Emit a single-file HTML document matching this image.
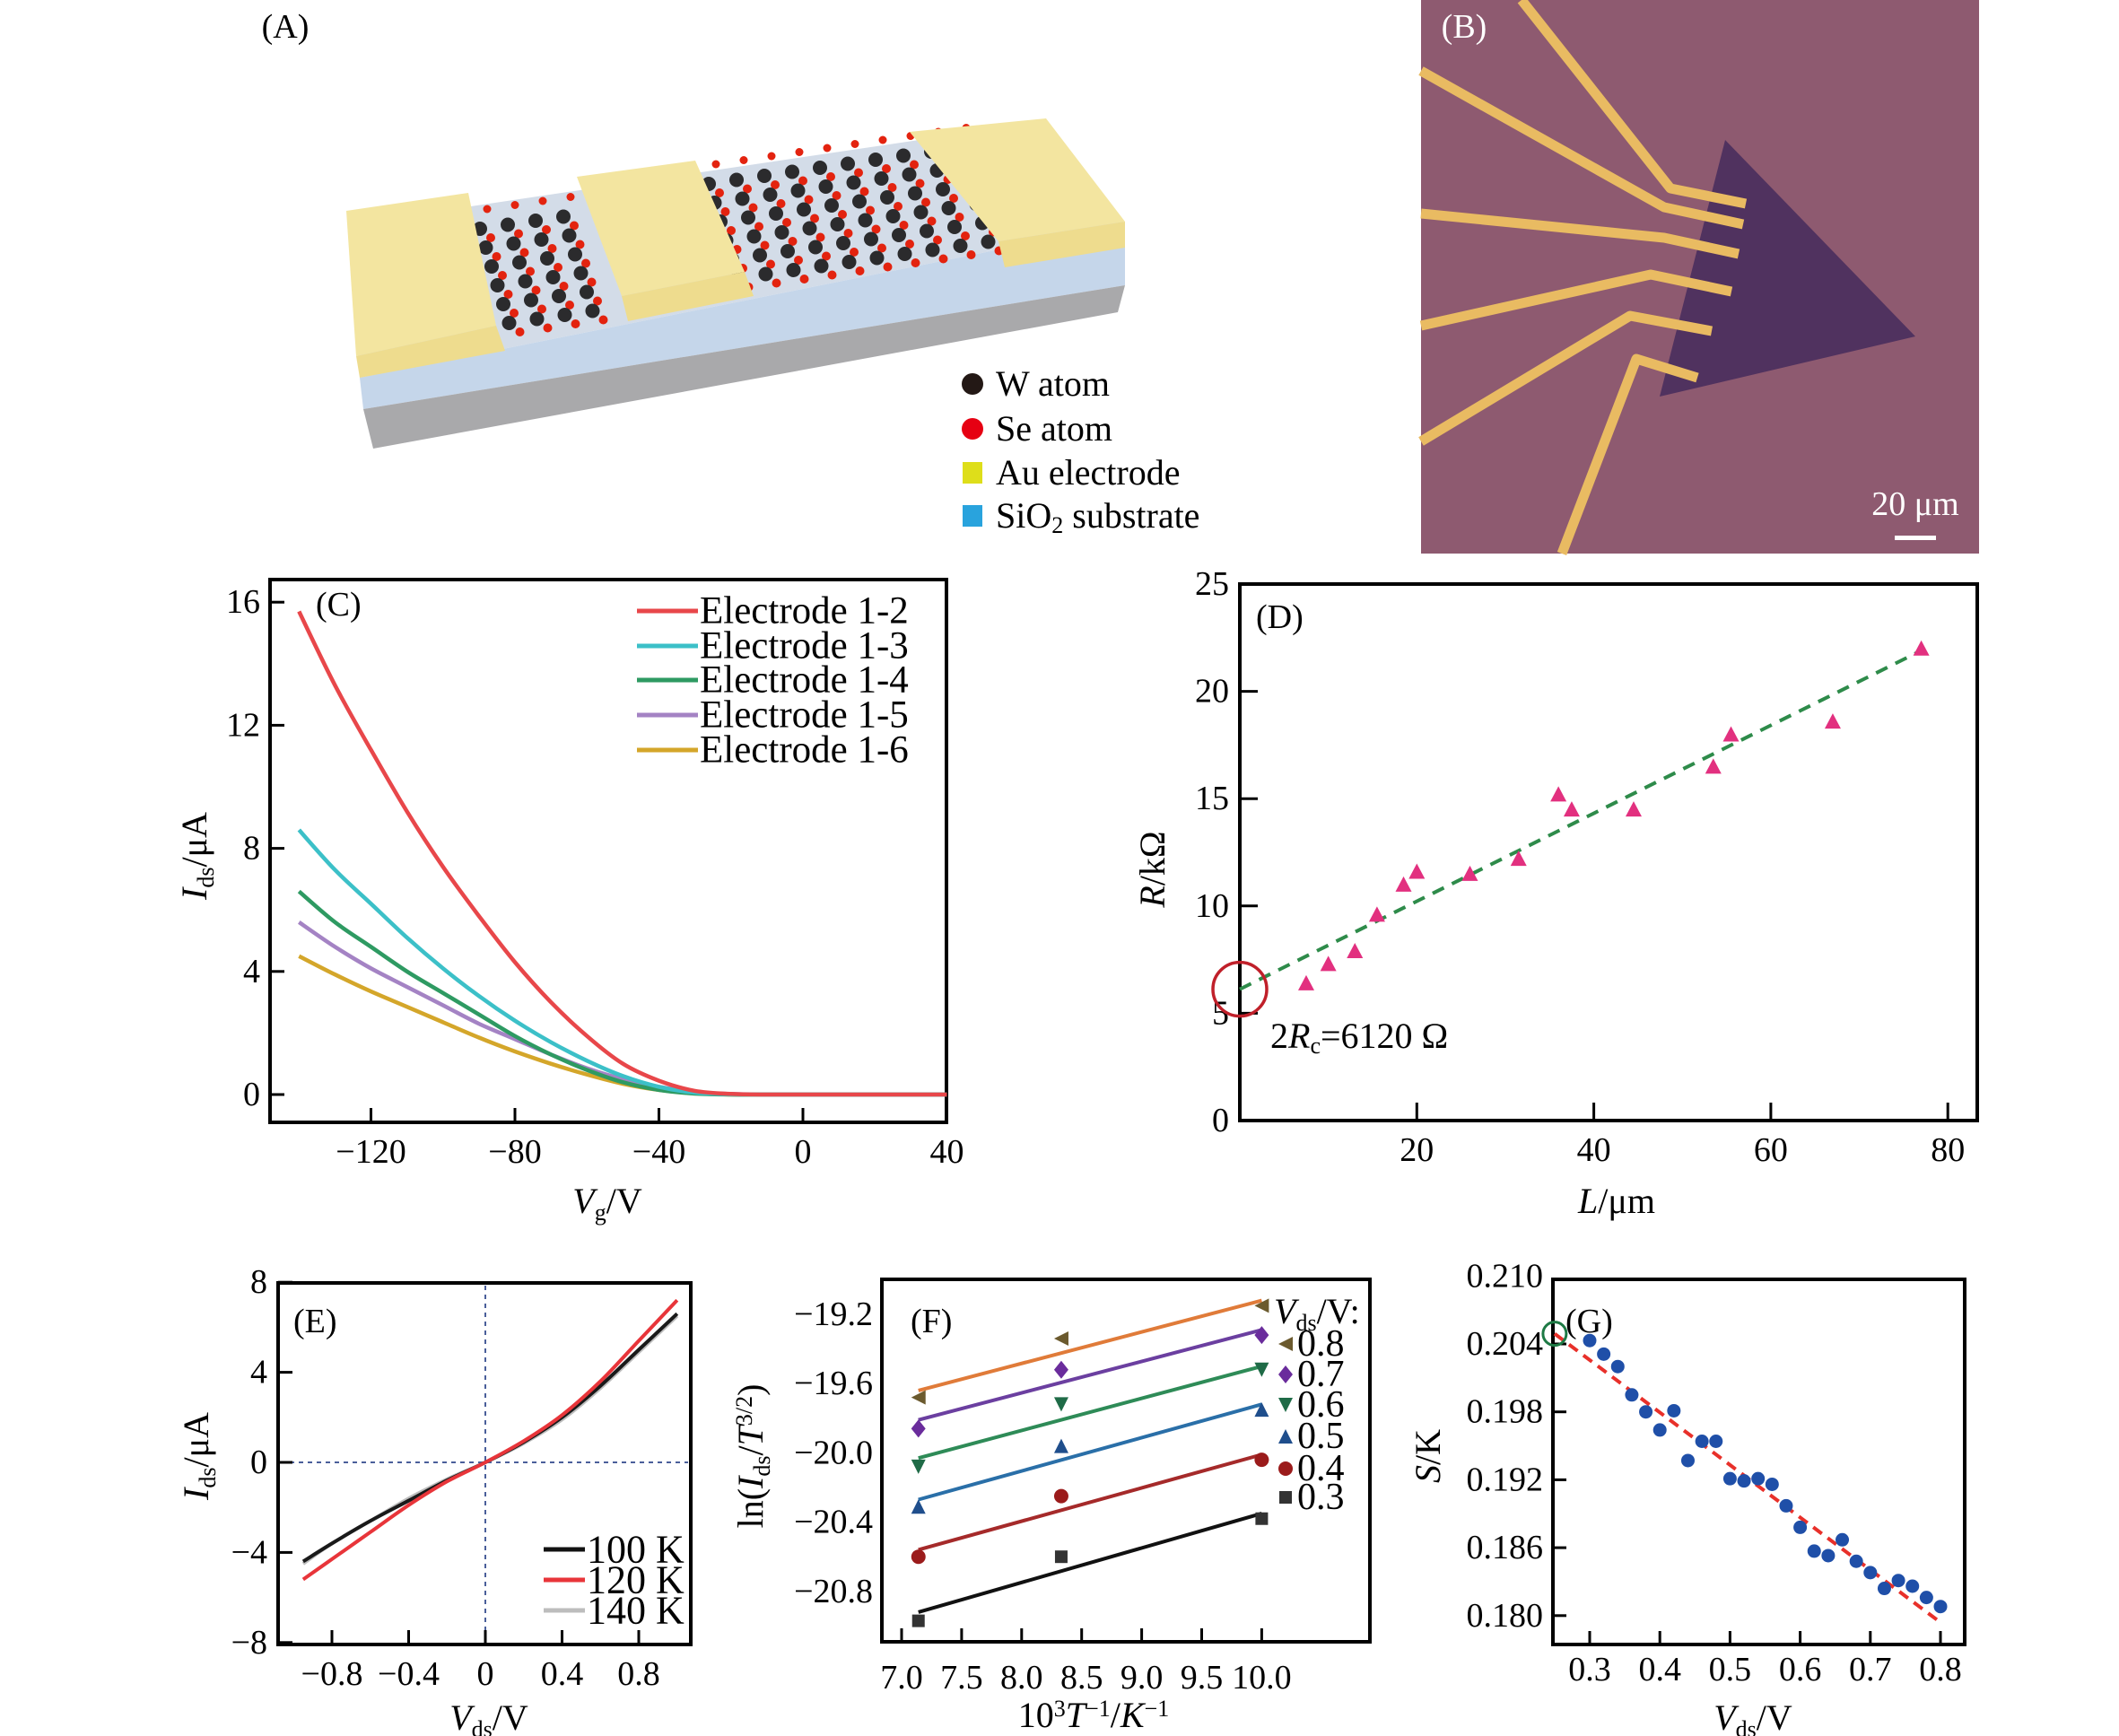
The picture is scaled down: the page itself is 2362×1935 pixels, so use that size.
<!DOCTYPE html>
<html><head><meta charset="utf-8"><style>
html,body{margin:0;padding:0;background:#fff}
svg{display:block;font-family:"Liberation Serif",serif}
</style></head><body>
<svg id="fig" xmlns="http://www.w3.org/2000/svg" width="2362" height="1935" viewBox="0 0 2362 1935">
<rect x="0" y="0" width="2362" height="1935" fill="#fff"/>
<!-- Panel A -->
<g id="panelA">
<text x="318" y="42" font-size="38" text-anchor="middle">(A)</text>
<polygon points="390,250 1166,135 1254,250 401,421" fill="#d3dce8"/>
<polygon points="401,421 1254,250 1254,318 405,456" fill="#c5d6ea"/>
<polygon points="405,456 1254,318 1246,348 416,500" fill="#a9a9ab"/>
<g id="atoms"></g>
<polygon points="386,235 522,215 553,363 397,397" fill="#f3e5a0"/>
<polygon points="397,397 553,363 563,391 401,421" fill="#eedc8e"/>
<polygon points="643,197 775,179 830,303 693,330" fill="#f3e5a0"/>
<polygon points="693,330 830,303 840,330 700,358" fill="#eedc8e"/>
<polygon points="1014,147 1166,132 1254,247 1113,269" fill="#f3e5a0"/>
<polygon points="1113,269 1254,247 1254,276 1120,298" fill="#eedc8e"/>
<circle cx="1084" cy="428" r="12" fill="#231815"/>
<circle cx="1084" cy="478" r="12" fill="#e60012"/>
<rect x="1073" y="515" width="22" height="24" fill="#dede1a"/>
<rect x="1073" y="563" width="22" height="24" fill="#29a3dd"/>
<text x="1110" y="441" font-size="40">W atom</text>
<text x="1110" y="491" font-size="40">Se atom</text>
<text x="1110" y="540" font-size="40">Au electrode</text>
<text x="1110" y="588" font-size="40">SiO<tspan font-size="26" dy="6">2</tspan><tspan dy="-6"> substrate</tspan></text>
</g>
<!-- Panel B -->
<g id="panelB">
<rect x="1584" y="0" width="622" height="617" fill="#8e5a70"/>
<polygon points="1923,156 2135,375 1850,442" fill="#50325f"/>
<g fill="none" stroke="#e9bb62" stroke-width="11" stroke-linejoin="round">
<polyline points="1696,0 1862,210 1946,227"/>
<polyline points="1584,79 1855,231 1943,250"/>
<polyline points="1584,238 1855,265 1938,283"/>
<polyline points="1584,363 1840,306 1930,325"/>
<polyline points="1584,492 1817,352 1908,369"/>
<polyline points="1741,617 1824,400 1892,421"/>
</g>
<text x="1632" y="42" font-size="38" fill="#fff" text-anchor="middle">(B)</text>
<text x="2135" y="574" font-size="38" fill="#fff" text-anchor="middle">20 μm</text>
<rect x="2112" y="597" width="46" height="5" fill="#fff"/>
</g>
<!-- axis titles and static labels -->
<g font-size="40">
<text x="352" y="686" font-size="38">(C)</text>
<text transform="translate(230,954) rotate(-90)" text-anchor="middle"><tspan font-style="italic">I</tspan><tspan font-size="26" dy="8">ds</tspan><tspan dy="-8">/μA</tspan></text>
<text x="677" y="1352" text-anchor="middle"><tspan font-style="italic">V</tspan><tspan font-size="26" dy="8">g</tspan><tspan dy="-8">/V</tspan></text>
<text x="1400" y="700" font-size="38">(D)</text>
<text transform="translate(1298,969) rotate(-90)" text-anchor="middle"><tspan font-style="italic">R</tspan>/kΩ</text>
<text x="1802" y="1352" text-anchor="middle"><tspan font-style="italic">L</tspan>/μm</text>
<text x="1416" y="1168" font-size="40">2<tspan font-style="italic">R</tspan><tspan font-size="26" dy="6">c</tspan><tspan dy="-6">=6120 Ω</tspan></text>
<text x="327" y="1485" font-size="38">(E)</text>
<text transform="translate(232,1623) rotate(-90)" text-anchor="middle"><tspan font-style="italic">I</tspan><tspan font-size="26" dy="8">ds</tspan><tspan dy="-8">/μA</tspan></text>
<text x="545" y="1928" text-anchor="middle"><tspan font-style="italic">V</tspan><tspan font-size="26" dy="8">ds</tspan><tspan dy="-8">/V</tspan></text>
<text x="1015" y="1485" font-size="38">(F)</text>
<text transform="translate(850,1623) rotate(-90)" text-anchor="middle">ln(<tspan font-style="italic">I</tspan><tspan font-size="26" dy="8">ds</tspan><tspan dy="-8">/</tspan><tspan font-style="italic">T</tspan><tspan font-size="26" dy="-12">3/2</tspan><tspan dy="12">)</tspan></text>
<text x="1219" y="1925" text-anchor="middle">10<tspan font-size="26" dy="-12">3</tspan><tspan dy="12" font-style="italic">T</tspan><tspan font-size="26" dy="-12">−1</tspan><tspan dy="12">/</tspan><tspan font-style="italic">K</tspan><tspan font-size="26" dy="-12">−1</tspan></text>
<text x="1420" y="1475" font-size="40"><tspan font-style="italic">V</tspan><tspan font-size="26" dy="8">ds</tspan><tspan dy="-8">/V:</tspan></text>
<text x="1745" y="1485" font-size="38">(G)</text>
<text transform="translate(1605,1623) rotate(-90)" text-anchor="middle"><tspan font-style="italic">S</tspan>/K</text>
<text x="1954" y="1928" text-anchor="middle"><tspan font-style="italic">V</tspan><tspan font-size="26" dy="8">ds</tspan><tspan dy="-8">/V</tspan></text>
</g>
<g id="charts"></g>
</svg>
<script>
// ===== Panel C data =====
const cVg = [-140,-130,-120,-110,-100,-90,-80,-70,-60,-50,-40,-30,-20,-10,0,10,20,30,40];
const cSeriesNames = ["Electrode 1-2","Electrode 1-3","Electrode 1-4","Electrode 1-5","Electrode 1-6"];
const cE12 = [15.7,13.3,11.2,9.2,7.4,5.8,4.3,3.0,1.9,1.0,0.45,0.12,0.02,0,0,0,0,0,0];
const cE13 = [8.6,7.3,6.2,5.1,4.1,3.2,2.4,1.7,1.1,0.6,0.25,0.06,0.01,0,0,0,0,0,0];
const cE14 = [6.6,5.6,4.8,4.0,3.3,2.6,1.9,1.3,0.8,0.4,0.15,0.03,0,0,0,0,0,0,0];
const cE15 = [5.6,4.8,4.1,3.5,2.9,2.3,1.8,1.3,0.85,0.5,0.25,0.08,0.02,0,0,0,0,0,0];
const cE16 = [4.5,3.9,3.35,2.85,2.35,1.85,1.4,1.0,0.65,0.35,0.15,0.04,0,0,0,0,0,0,0];
const cXTicks = [-120,-80,-40,0,40];
const cYTicks = [0,4,8,12,16];
// ===== Panel D data =====
const dL = [7.5,10,13,15.5,18.5,20,26,31.5,36,37.5,44.5,53.5,55.5,67,77];
const dR = [6.4,7.3,7.9,9.6,11.0,11.6,11.5,12.2,15.2,14.5,14.5,16.5,18.0,18.6,22.0];
const dFitL = [0,77];
const dFitR = [6.12,21.9];
const dXTicks = [20,40,60,80];
const dYTicks = [0,5,10,15,20,25];
// ===== Panel E data =====
const eV = [-0.95,-0.8,-0.6,-0.4,-0.2,0,0.2,0.4,0.6,0.8,1.0];
const eI100 = [-4.4,-3.6,-2.6,-1.7,-0.8,0,0.9,2.0,3.4,5.0,6.6];
const eI120 = [-5.2,-4.3,-3.1,-1.9,-0.85,0,0.95,2.1,3.6,5.4,7.2];
const eI140 = [-4.5,-3.6,-2.6,-1.6,-0.75,0,0.85,1.9,3.3,4.9,6.5];
const eXTicks = [-0.8,-0.4,0,0.4,0.8];
const eXTickLabels = ["−0.8","−0.4","0","0.4","0.8"];
const eYTicks = [-8,-4,0,4,8];
const eYTickLabels = ["−8","−4","0","4","8"];
// ===== Panel F data =====
const fX = [7.14,8.33,10.0];
const fV = ["0.8","0.7","0.6","0.5","0.4","0.3"];
const fP08 = [-19.68,-19.34,-19.15];
const fP07 = [-19.86,-19.52,-19.32];
const fP06 = [-20.08,-19.72,-19.52];
const fP05 = [-20.31,-19.96,-19.75];
const fP04 = [-20.60,-20.25,-20.04];
const fP03 = [-20.97,-20.60,-20.38];
const fFitStart = [-19.64,-19.81,-20.03,-20.27,-20.56,-20.92];
const fFitEnd = [-19.12,-19.29,-19.50,-19.72,-20.01,-20.35];
const fXTicks = [7.0,7.5,8.0,8.5,9.0,9.5,10.0];
const fXTickLabels = ["7.0","7.5","8.0","8.5","9.0","9.5","10.0"];
const fYTicks = [-19.2,-19.6,-20.0,-20.4,-20.8];
const fYTickLabels = ["−19.2","−19.6","−20.0","−20.4","−20.8"];
// ===== Panel G data =====
const gV = [0.30,0.32,0.34,0.36,0.38,0.40,0.42,0.44,0.46,0.48,0.50,0.52,0.54,0.56,0.58,0.60,0.62,0.64,0.66,0.68,0.70,0.72,0.74,0.76,0.78,0.80];
const gS = [0.2043,0.2031,0.2020,0.1995,0.1980,0.1964,0.1981,0.1937,0.1954,0.1954,0.1921,0.1919,0.1921,0.1916,0.1897,0.1878,0.1857,0.1853,0.1867,0.1848,0.1838,0.1824,0.1831,0.1826,0.1816,0.1808];
const gFitV = [0.25,0.80];
const gFitS = [0.2049,0.1794];
const gXTicks = [0.3,0.4,0.5,0.6,0.7,0.8];
const gYTicks = [0.180,0.186,0.192,0.198,0.204,0.210];

const NS = "http://www.w3.org/2000/svg";
const root = document.getElementById('charts');
function mk(tag, attrs, parent, name) {
  const e = document.createElementNS(NS, tag);
  for (const k in attrs) e.setAttribute(k, attrs[k]);
  
  
  (parent || root).appendChild(e);
  return e;
}
function txt(x, y, s, anchor, parent, name, size) {
  const t = mk('text', {x: x, y: y, 'font-size': size || 38, 'text-anchor': anchor, 'dominant-baseline': 'central'}, parent, name);
  t.textContent = s;
  return t;
}
function smooth(p) {
  let d = 'M' + p[0][0].toFixed(1) + ',' + p[0][1].toFixed(1);
  for (let i = 0; i < p.length - 1; i++) {
    const p0 = p[i-1] || p[i], p1 = p[i], p2 = p[i+1], p3 = p[i+2] || p[i+1];
    const c1 = [p1[0] + (p2[0]-p0[0])/6, p1[1] + (p2[1]-p0[1])/6];
    const c2 = [p2[0] - (p3[0]-p1[0])/6, p2[1] - (p3[1]-p1[1])/6];
    d += 'C' + c1.map(v=>v.toFixed(1)) + ' ' + c2.map(v=>v.toFixed(1)) + ' ' + p2.map(v=>v.toFixed(1));
  }
  return d;
}
function box(x0, y0, x1, y1, g, name) {
  mk('rect', {x: x0, y: y0, width: x1-x0, height: y1-y0, fill: 'none', stroke: '#000', 'stroke-width': 4}, g, name);
}

// ===== Panel A atoms (illustration) =====
(function(){
  const g = document.getElementById('atoms');
  const regions = [
    {x0: 535, y0: 255, cols: 4, rows: 6},
    {x0: 790, y0: 205, cols: 10, rows: 6}
  ];
  const ux = 31, uy = -4.5, vx = 6.5, vy = 21;
  regions.forEach(function(r, ri){
    for (let i = 0; i < r.cols; i++) {
      const sx = r.x0 + i*ux, sy = r.y0 + i*uy;
      const s = mk('circle', {cx: sx+8, cy: sy-22, r: 4.5, fill: '#e3230f'}, g, 'se-atom');
      for (let j = 0; j < r.rows; j++) {
        const x = sx + j*vx, y = sy + j*vy;
        const se = mk('circle', {cx: x + 12, cy: y + 10, r: 5, fill: '#e3230f'}, g, 'se-atom');
        const w = mk('circle', {cx: x, cy: y, r: 8, fill: '#2b2b2d'}, g, 'w-atom');
      }
    }
  });
})();

// ===== Panel C =====
(function(){
  const g = mk('g', {}, root, 'panel-c-transfer-curves');
  const xC = v => 895 + v * (160.5/40);
  const yC = v => 1220 - v * 34.3;
  box(301, 646, 1055, 1251, g, 'c-plot-frame');
  cXTicks.forEach(function(t){
    mk('line', {x1: xC(t), y1: 1251, x2: xC(t), y2: 1235, stroke: '#000', 'stroke-width': 3}, g, 'c-x-tick');
    txt(xC(t), 1284, t < 0 ? '−' + (-t) : String(t), 'middle', g, 'c-x-tick-label');
  });
  cYTicks.forEach(function(t){
    mk('line', {x1: 301, y1: yC(t), x2: 317, y2: yC(t), stroke: '#000', 'stroke-width': 3}, g, 'c-y-tick');
    txt(290, yC(t), String(t), 'end', g, 'c-y-tick-label');
  });
  const series = [cE16, cE15, cE14, cE13, cE12];
  const colors = ['#d4a62a','#a483c4','#2e9a62','#3cc0c8','#e8474a'];
  const names = ['curve-electrode-1-6','curve-electrode-1-5','curve-electrode-1-4','curve-electrode-1-3','curve-electrode-1-2'];
  series.forEach(function(s, k){
    const pts = cVg.map((v, i) => [xC(v), yC(s[i])]);
    mk('path', {d: smooth(pts), fill: 'none', stroke: colors[k], 'stroke-width': 4.5}, g, names[k]);
  });
  const legColors = ['#e8474a','#3cc0c8','#2e9a62','#a483c4','#d4a62a'];
  const legY = [681,720,758,797,836];
  cSeriesNames.forEach(function(n, k){
    mk('line', {x1: 710, y1: legY[k], x2: 778, y2: legY[k], stroke: legColors[k], 'stroke-width': 5}, g, 'c-legend-swatch');
    txt(780, legY[k], n, 'start', g, 'c-legend-entry', 43);
  });
})();

// ===== Panel D =====
(function(){
  const g = mk('g', {}, root, 'panel-d-resistance-vs-length');
  const xD = v => 1382 + v * 9.865;
  const yD = v => 1249 - v * 23.92;
  box(1382, 651, 2204, 1249, g, 'd-plot-frame');
  dXTicks.forEach(function(t){
    mk('line', {x1: xD(t), y1: 1249, x2: xD(t), y2: 1229, stroke: '#000', 'stroke-width': 3}, g, 'd-x-tick');
    txt(xD(t), 1282, String(t), 'middle', g, 'd-x-tick-label');
  });
  dYTicks.forEach(function(t){
    mk('line', {x1: 1382, y1: yD(t), x2: 1402, y2: yD(t), stroke: '#000', 'stroke-width': 3}, g, 'd-y-tick');
    txt(1370, yD(t), String(t), 'end', g, 'd-y-tick-label');
  });
  mk('line', {x1: xD(dFitL[0]), y1: yD(dFitR[0]), x2: xD(dFitL[1]), y2: yD(dFitR[1]), stroke: '#2e8b4a', 'stroke-width': 4, 'stroke-dasharray': '14 10'}, g, 'd-linear-fit');
  dL.forEach(function(l, i){
    const x = xD(l), y = yD(dR[i]);
    mk('polygon', {points: (x-9)+','+(y+8)+' '+(x+9)+','+(y+8)+' '+x+','+(y-9), fill: '#e2307f'}, g, 'd-data-point');
  });
  mk('circle', {cx: xD(0), cy: yD(dFitR[0]), r: 30, fill: 'none', stroke: '#c0202a', 'stroke-width': 3.5}, g, 'd-intercept-circle');
})();

// ===== Panel E =====
(function(){
  const g = mk('g', {}, root, 'panel-e-iv-curves');
  const xE = v => 541 + v * 213.75;
  const yE = v => 1630 - v * 25.1;
  box(310, 1430, 770, 1833, g, 'e-plot-frame');
  mk('line', {x1: xE(0), y1: 1433, x2: xE(0), y2: 1830, stroke: '#4a5f9a', 'stroke-width': 2, 'stroke-dasharray': '5 5'}, g, 'e-zero-vline');
  mk('line', {x1: 313, y1: yE(0), x2: 767, y2: yE(0), stroke: '#4a5f9a', 'stroke-width': 2, 'stroke-dasharray': '5 5'}, g, 'e-zero-hline');
  eXTicks.forEach(function(t, i){
    mk('line', {x1: xE(t), y1: 1833, x2: xE(t), y2: 1817, stroke: '#000', 'stroke-width': 3}, g, 'e-x-tick');
    txt(xE(t), 1866, eXTickLabels[i], 'middle', g, 'e-x-tick-label');
  });
  eYTicks.forEach(function(t, i){
    mk('line', {x1: 310, y1: yE(t), x2: 326, y2: yE(t), stroke: '#000', 'stroke-width': 3}, g, 'e-y-tick');
    txt(298, yE(t), eYTickLabels[i], 'end', g, 'e-y-tick-label');
  });
  const ser = [[eI140,'#bdbdbd','curve-140k'],[eI100,'#1a1a1a','curve-100k'],[eI120,'#e8353a','curve-120k']];
  ser.forEach(function(s){
    const pts = eV.map((v, i) => [xE(v), yE(s[0][i])]);
    mk('path', {d: smooth(pts), fill: 'none', stroke: s[1], 'stroke-width': 4}, g, s[2]);
  });
  const leg = [['100 K','#111',1727],['120 K','#e8353a',1761],['140 K','#bdbdbd',1795]];
  leg.forEach(function(l){
    mk('line', {x1: 606, y1: l[2], x2: 652, y2: l[2], stroke: l[1], 'stroke-width': 5}, g, 'e-legend-swatch');
    txt(654, l[2], l[0], 'start', g, 'e-legend-entry', 44);
  });
})();

// ===== Panel F =====
(function(){
  const g = mk('g', {}, root, 'panel-f-arrhenius');
  const xF = v => 1005 + (v - 7) * 133.8;
  const yF = v => 1465 - (v + 19.2) * 193;
  box(983, 1426, 1527, 1830, g, 'f-plot-frame');
  fXTicks.forEach(function(t, i){
    mk('line', {x1: xF(t), y1: 1830, x2: xF(t), y2: 1815, stroke: '#000', 'stroke-width': 3}, g, 'f-x-tick');
    txt(xF(t), 1870, fXTickLabels[i], 'middle', g, 'f-x-tick-label');
  });
  fYTicks.forEach(function(t, i){
    txt(973, yF(t), fYTickLabels[i], 'end', g, 'f-y-tick-label');
  });
  const pts = [fP08, fP07, fP06, fP05, fP04, fP03];
  const lineCol = ['#e07b39','#6b3fa0','#2e8b57','#2a6fa8','#a52a2a','#111'];
  const mCol = ['#6b5a2e','#6a2c9c','#1f6b47','#1f4e8c','#9b1b1b','#333'];
  const shapes = ['left','diamond','down','up','circle','square'];
  function marker(x, y, k, name) {
    const s = shapes[k], c = mCol[k], r = 8;
    if (s === 'circle') return mk('circle', {cx: x, cy: y, r: r, fill: c}, g, name);
    if (s === 'square') return mk('rect', {x: x-7, y: y-7, width: 14, height: 14, fill: c}, g, name);
    let p;
    if (s === 'left') p = [[x-r,y],[x+r,y-r],[x+r,y+r]];
    if (s === 'diamond') p = [[x,y-10],[x+8,y],[x,y+10],[x-8,y]];
    if (s === 'down') p = [[x-r,y-r],[x+r,y-r],[x,y+r]];
    if (s === 'up') p = [[x-r,y+r],[x+r,y+r],[x,y-r]];
    return mk('polygon', {points: p.map(q=>q.join(',')).join(' '), fill: c}, g, name);
  }
  pts.forEach(function(arr, k){
    mk('line', {x1: xF(fX[0]), y1: yF(fFitStart[k]), x2: xF(fX[2]), y2: yF(fFitEnd[k]), stroke: lineCol[k], 'stroke-width': 4}, g, 'f-fit-line-' + fV[k]);
    arr.forEach(function(v, i){
      marker(xF(fX[i]), yF(v), k, 'f-point-' + fV[k]);
    });
  });
  const legY = [1498,1532,1566,1601,1637,1669];
  fV.forEach(function(v, k){
    marker(1433, legY[k], k, 'f-legend-marker');
    txt(1446, legY[k], v, 'start', g, 'f-legend-entry', 42);
  });
})();

// ===== Panel G =====
(function(){
  const g = mk('g', {}, root, 'panel-g-seebeck');
  const xG = v => 1772 + (v - 0.3) * 782;
  const yG = v => 1498 - (v - 0.204) * 12617;
  box(1731, 1426, 2190, 1833, g, 'g-plot-frame');
  gXTicks.forEach(function(t){
    mk('line', {x1: xG(t), y1: 1833, x2: xG(t), y2: 1818, stroke: '#000', 'stroke-width': 3}, g, 'g-x-tick');
    txt(xG(t), 1861, t.toFixed(1), 'middle', g, 'g-x-tick-label');
  });
  gYTicks.forEach(function(t){
    if (t < 0.209) mk('line', {x1: 1731, y1: yG(t), x2: 1746, y2: yG(t), stroke: '#000', 'stroke-width': 3}, g, 'g-y-tick');
    txt(1720, yG(t), t.toFixed(3), 'end', g, 'g-y-tick-label');
  });
  mk('line', {x1: xG(gFitV[0]), y1: yG(gFitS[0]), x2: xG(gFitV[1]), y2: yG(gFitS[1]), stroke: '#e8302a', 'stroke-width': 4, 'stroke-dasharray': '12 8'}, g, 'g-linear-fit');
  gV.forEach(function(v, i){
    mk('circle', {cx: xG(v), cy: yG(gS[i]), r: 7.5, fill: '#1f4fa8'}, g, 'g-data-point');
  });
  mk('circle', {cx: xG(gFitV[0]), cy: yG(gFitS[0]), r: 13, fill: 'none', stroke: '#1e7a45', 'stroke-width': 3}, g, 'g-intercept-circle');
})();
</script>
</body></html>
